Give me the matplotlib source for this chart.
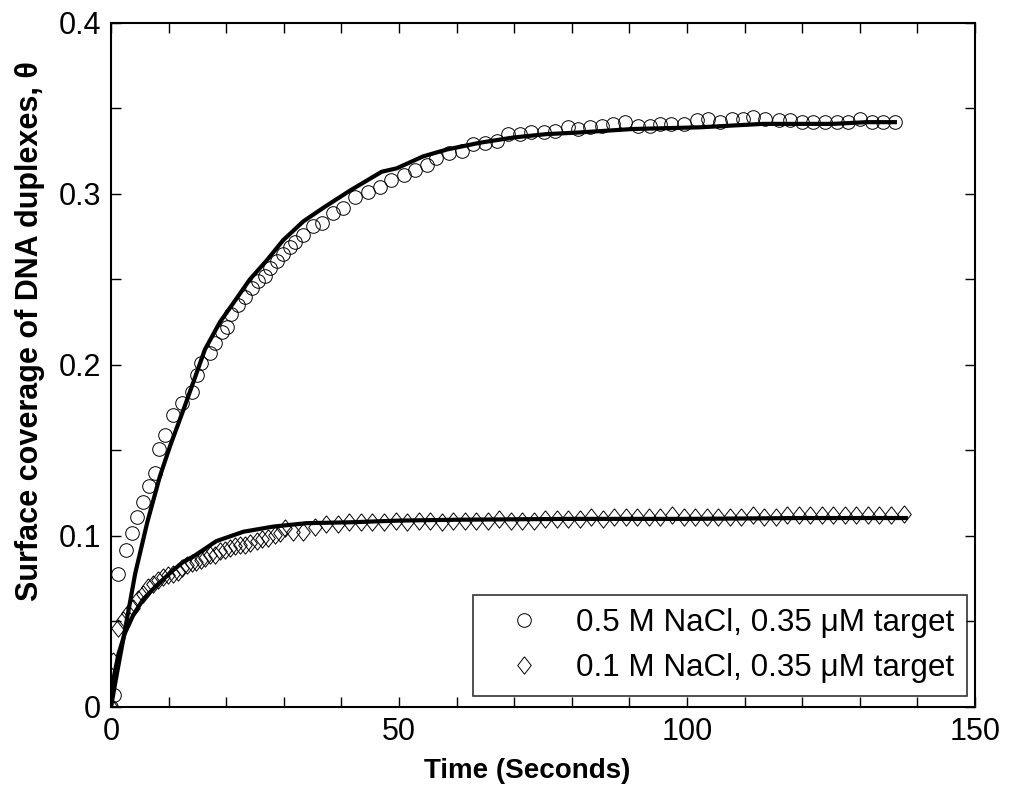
import matplotlib
matplotlib.use("Agg")
import matplotlib.pyplot as plt
from matplotlib import font_manager
from matplotlib.ticker import MultipleLocator, FixedLocator

# --- measured surface coverage, 0.5 M NaCl ---
t_high = [0.0, 0.5, 1.3, 2.6, 3.6, 4.6, 5.6, 6.6, 7.6, 8.4, 9.4, 10.8, 12.3,
          14.0, 14.9, 15.7, 17.2, 18.1, 19.2, 20.1, 20.9, 22.1, 23.3, 24.4,
          25.6, 26.7, 27.6, 28.8, 29.9, 31.1, 31.9, 33.4, 35.1, 36.6, 38.6,
          40.3, 42.4, 44.7, 46.7, 48.7, 50.8, 52.8, 54.8, 56.5, 58.6, 60.9,
          62.9, 64.9, 67.0, 69.0, 71.0, 73.0, 75.1, 77.1, 79.4, 81.1, 83.2,
          85.2, 87.2, 89.2, 91.5, 93.6, 95.3, 97.3, 99.4, 101.7, 103.7, 105.7,
          107.8, 109.8, 111.5, 113.5, 115.9, 117.9, 119.9, 121.9, 124.0, 126.0,
          128.0, 130.0, 132.1, 134.1, 136.1]
theta_high = [0.000, 0.007, 0.078, 0.092, 0.102, 0.111, 0.120, 0.129, 0.137,
              0.151, 0.159, 0.171, 0.178, 0.184, 0.194, 0.201, 0.207, 0.213,
              0.219, 0.222, 0.230, 0.235, 0.240, 0.245, 0.249, 0.252, 0.257,
              0.261, 0.265, 0.269, 0.272, 0.276, 0.281, 0.283, 0.289, 0.292,
              0.298, 0.301, 0.304, 0.308, 0.311, 0.314, 0.317, 0.321, 0.324,
              0.325, 0.329, 0.330, 0.331, 0.335, 0.335, 0.336, 0.336, 0.337,
              0.339, 0.338, 0.339, 0.340, 0.341, 0.342, 0.340, 0.340, 0.341,
              0.341, 0.341, 0.343, 0.344, 0.342, 0.344, 0.344, 0.345, 0.344,
              0.343, 0.343, 0.342, 0.342, 0.342, 0.342, 0.342, 0.344, 0.342,
              0.342, 0.342]

# --- measured surface coverage, 0.1 M NaCl ---
t_low = [0.0, 0.3, 1.3, 2.1, 3.0, 3.9, 4.7, 5.6, 6.5, 7.3, 8.2, 9.1, 9.9,
         10.8, 11.6, 12.4, 13.2, 14.0, 14.8, 15.6, 16.4, 17.2, 18.1, 18.9,
         19.8, 20.7, 21.5, 22.4, 23.3, 24.1, 25.3, 26.2, 27.3, 28.5, 29.3,
         30.2, 31.6, 33.4, 35.4, 37.4, 39.4, 41.4, 43.4, 45.4, 47.4, 49.4,
         51.4, 53.4, 55.4, 57.4, 59.4, 61.4, 63.4, 65.4, 67.4, 69.4, 71.4,
         73.4, 75.4, 77.4, 79.4, 81.4, 83.4, 85.4, 87.4, 89.4, 91.4, 93.4,
         95.4, 97.4, 99.4, 101.4, 103.4, 105.4, 107.4, 109.4, 111.4, 113.4,
         115.4, 117.4, 119.4, 121.4, 123.4, 125.4, 127.4, 129.4, 131.4, 133.4,
         135.4, 137.6]
theta_low = [0.000, 0.027, 0.046, 0.051, 0.055, 0.058, 0.063, 0.066, 0.070,
             0.072, 0.074, 0.076, 0.077, 0.078, 0.079, 0.081, 0.083, 0.084,
             0.085, 0.086, 0.087, 0.089, 0.089, 0.091, 0.092, 0.093, 0.094,
             0.095, 0.095, 0.096, 0.097, 0.098, 0.099, 0.1005, 0.1015, 0.1045,
             0.1025, 0.1025, 0.105, 0.107, 0.107, 0.108, 0.108, 0.108, 0.108,
             0.109, 0.108, 0.109, 0.109, 0.108, 0.109, 0.109, 0.109, 0.109,
             0.110, 0.109, 0.109, 0.109, 0.110, 0.110, 0.110, 0.110, 0.111,
             0.110, 0.111, 0.111, 0.111, 0.111, 0.111, 0.112, 0.111, 0.111,
             0.111, 0.111, 0.111, 0.111, 0.112, 0.111, 0.111, 0.112, 0.112,
             0.112, 0.112, 0.112, 0.112, 0.112, 0.112, 0.112, 0.112, 0.113]

# --- model curves ---
t_fit_high = [0, 1.0, 2.1, 4.2, 6.3, 8.5, 10.3, 12.6, 14.3, 16.3, 18.9, 21.2,
              24.1, 27.0, 29.9, 33.4, 36.9, 39.2, 41.5, 45.0, 47.0, 49.6, 54.2,
              58.3, 64.1, 69.8, 75.6, 81.4, 86.0, 90.6, 102.3, 113.2, 125.3,
              131.2, 136.1]
theta_fit_high = [0, 0.019, 0.039, 0.078, 0.108, 0.135, 0.153, 0.174, 0.190,
                  0.209, 0.225, 0.236, 0.250, 0.261, 0.273, 0.284, 0.292,
                  0.297, 0.302, 0.309, 0.313, 0.315, 0.322, 0.326, 0.330,
                  0.333, 0.335, 0.336, 0.337, 0.338, 0.339, 0.341, 0.341,
                  0.342, 0.342]
t_fit_low = [0, 0.4, 1.3, 2.4, 3.9, 5.6, 7.9, 10.8, 12.6, 14.3, 18.3, 23.0,
             28.2, 34.0, 41.5, 50.0, 60.0, 80.0, 100.0, 120.0, 138.0]
theta_fit_low = [0, 0.016, 0.031, 0.043, 0.054, 0.063, 0.071, 0.080, 0.085,
                 0.088, 0.097, 0.1025, 0.1055, 0.1075, 0.108, 0.109, 0.1095,
                 0.110, 0.110, 0.1105, 0.1105]

labels = ["0.5 M NaCl, 0.35 \u03bcM target", "0.1 M NaCl, 0.35 \u03bcM target"]

installed = {f.name for f in font_manager.fontManager.ttflist}
narrow = "Liberation Sans Narrow" if "Liberation Sans Narrow" in installed else "Liberation Sans"
plt.rcParams["font.family"] = ["Liberation Sans", "DejaVu Sans"]

fig = plt.figure(figsize=(10.10, 7.90), dpi=100)
ax = fig.add_axes([0.1099, 0.1051, 0.8554, 0.8658])

diamond = [(0, 1), (0.78, 0), (0, -1), (-0.78, 0), (0, 1)]

ax.plot(t_high, theta_high, linestyle="none", marker="o", markersize=9.8,
        markerfacecolor="none", markeredgecolor="black",
        markeredgewidth=0.7, label=labels[0], zorder=2)
ax.plot(t_low, theta_low, linestyle="none", marker=diamond, markersize=12.5,
        markerfacecolor="none", markeredgecolor="black",
        markeredgewidth=0.7, label=labels[1], zorder=2)
ax.plot(t_fit_high, theta_fit_high, color="black", linewidth=3.0, zorder=3)
ax.plot(t_fit_low, theta_fit_low, color="black", linewidth=3.0, zorder=3)

ax.set_xlim(0, 150)
ax.set_ylim(0, 0.4)
ax.xaxis.set_major_locator(FixedLocator([0, 50, 100, 150]))
ax.xaxis.set_minor_locator(MultipleLocator(10))
ax.yaxis.set_major_locator(FixedLocator([0, 0.1, 0.2, 0.3, 0.4]))
ax.yaxis.set_minor_locator(MultipleLocator(0.05))
ax.set_xticklabels(["0", "50", "100", "150"])
ax.set_yticklabels(["0", "0.1", "0.2", "0.3", "0.4"])
ax.tick_params(which="both", direction="in", top=True, right=True,
               length=7, width=1.0, labelsize=22, pad=7)
for s in ax.spines.values():
    s.set_linewidth(1.5)

ax.set_xlabel("Time (Seconds)", fontsize=20, fontweight="bold",
              family=[narrow, "DejaVu Sans"])
ax.xaxis.set_label_coords(0.482, -0.075)
ax.set_ylabel("Surface coverage of DNA duplexes, \u03b8", fontsize=22,
              fontweight="bold", family=[narrow, "DejaVu Sans"], va="center")
ax.yaxis.set_label_coords(-0.094, 0.55)

leg = ax.legend(loc="lower right", bbox_to_anchor=(0.9907, 0.016),
                borderaxespad=0, fontsize=22.6, frameon=True, fancybox=False,
                edgecolor="black", handlelength=2.45, handletextpad=0.45,
                borderpad=0.4, labelspacing=0.5, numpoints=1)
leg.get_frame().set_linewidth(1.2)

fig.savefig("out.png", dpi=100)
